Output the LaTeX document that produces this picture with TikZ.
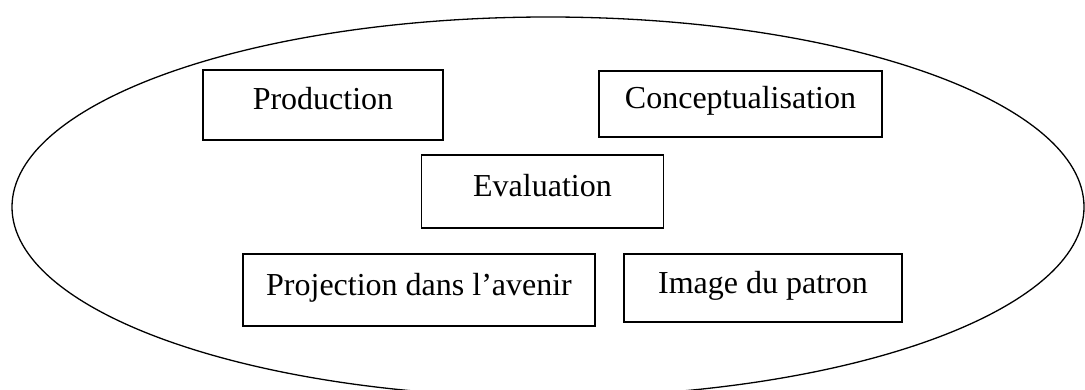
\documentclass[tikz,border=0pt]{standalone}
\usepackage{fontspec}
\setmainfont{Liberation Serif}

\begin{document}
\begin{tikzpicture}[x=0.5pt,y=-0.5pt,every node/.style={draw,shape=rectangle,line width=.8pt,inner sep=0pt,outer sep=0pt,text height=11pt,text depth=6pt,font=\fontsize{16}{19}\selectfont}]
\useasboundingbox (0,0) rectangle (1085,390);
\clip (0,0) rectangle (1085,390);
\draw[line width=.65pt] (548,207) ellipse (536 and 190);

\foreach \nom/\x/\y/\w/\h/\texte in {prod/323/105/120/35/Production,
	concept/740.5/104/141.5/33/Conceptualisation,
	eval/542.5/191.5/121/36.5/Evaluation,
	proj/419/290/176/36/Projection dans l’avenir,
	patron/763/288/139/34/Image du patron} {
	\node[minimum width=\w pt,minimum height=\h pt] (\nom) at (\x,\y) {\texte};
};

\end{tikzpicture}
\end{document}
